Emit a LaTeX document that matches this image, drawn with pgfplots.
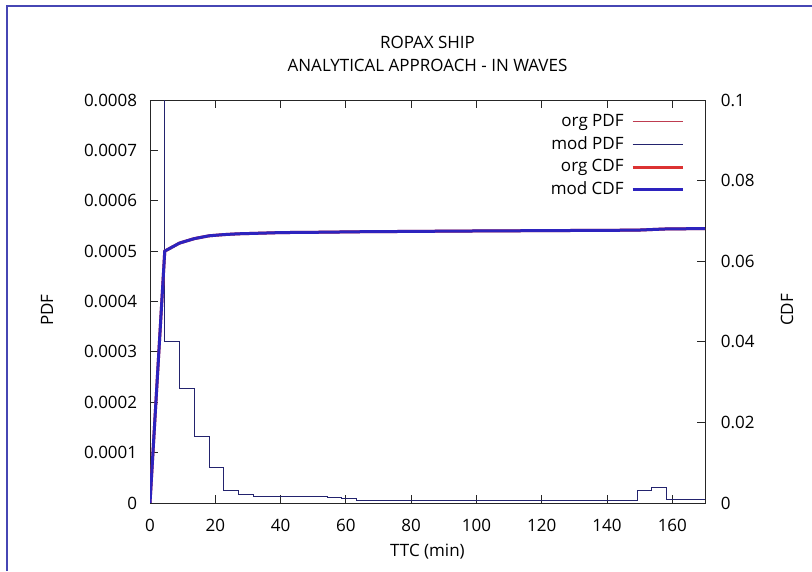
\documentclass[border=0pt]{standalone}
\usepackage{fontspec}
\setmainfont{Open Sans}
\usepackage{pgfplots}
\pgfplotsset{compat=1.18}
\definecolor{frameblue}{RGB}{70,70,180}
\definecolor{orgpdf}{RGB}{190,60,80}
\definecolor{modpdf}{RGB}{35,35,110}
\definecolor{orgcdf}{RGB}{220,50,50}
\definecolor{modcdf}{RGB}{45,35,190}
\pgfplotsset{
  common/.style={
    at={(150pt,68pt)}, anchor=south west,
    scale only axis, width=555pt, height=403pt,
    xmin=0, xmax=170,
    tick align=inside, major tick length=8pt,
    axis line style={line width=0.9pt, black!85},
    every tick/.style={line width=0.9pt, black!85},
    scaled ticks=false,
    clip=true,
  },
}
\begin{document}
\fontsize{17}{20}\selectfont
\begin{tikzpicture}[x=1pt,y=1pt]
\useasboundingbox (0,0) rectangle (812,571);
\draw[frameblue, line width=2pt] (7,0) -- (7,565) -- (813,565);
\begin{axis}[common,
  ymin=0, ymax=0.0008,
  xtick={0,20,40,60,80,100,120,140,160},
  xticklabels={0,20,40,60,80,100,120,140,160},
  ytick={0,0.0001,0.0002,0.0003,0.0004,0.0005,0.0006,0.0007,0.0008},
  yticklabels={0,0.0001,0.0002,0.0003,0.0004,0.0005,0.0006,0.0007,0.0008},
  ytick pos=left, xtick pos=both,
  yticklabel style={xshift=-7pt},
  xticklabel style={yshift=-10pt},
  title={ROPAX SHIP\\ANALYTICAL APPROACH - IN WAVES},
  every axis title/.style={at={(axis description cs:0.5,1)}, yshift=46.5pt, anchor=center, align=center, font=\fontsize{17}{23}\selectfont},
  xlabel={TTC (min)},
  every axis x label/.style={at={(axis description cs:0.5,-0.1216)}, anchor=center},
  ylabel={PDF},
  every axis y label/.style={at={(axis description cs:-0.1856,0.479)}, anchor=center, rotate=90},
]
\addplot[orgpdf, line width=0.8pt, const plot] coordinates {
(0,0.0137) (4.52,0.00032) (9.04,0.000227) (13.56,0.000132) (18.08,0.000071)
(22.6,0.000025) (27.12,0.000017) (31.64,0.000014) (36.16,0.000014) (40.68,0.000014)
(45.2,0.000014) (49.72,0.000014) (54.24,0.0000115) (58.76,0.000009) (63.28,0.000005)
(67.8,0.000005) (72.32,0.000005) (76.84,0.000005) (81.36,0.000005) (85.88,0.000005)
(90.4,0.000005) (94.92,0.000005) (99.44,0.000005) (103.96,0.000005) (108.48,0.000005)
(113,0.000005) (117.52,0.000005) (122.04,0.000005) (126.56,0.000005) (131.08,0.000005)
(135.6,0.000005) (140.12,0.000005) (144.64,0.000005) (149.16,0.000026) (153.68,0.00003)
(158.2,0.000008) (162.72,0.000008) (167.24,0.000008) (170,0.000008)
};
\addplot[modpdf, line width=0.8pt, const plot] coordinates {
(0,0.0137) (4.52,0.00032) (9.04,0.000227) (13.56,0.000132) (18.08,0.000071)
(22.6,0.000025) (27.12,0.000017) (31.64,0.000014) (36.16,0.000014) (40.68,0.000014)
(45.2,0.000014) (49.72,0.000014) (54.24,0.0000115) (58.76,0.000009) (63.28,0.000005)
(67.8,0.000005) (72.32,0.000005) (76.84,0.000005) (81.36,0.000005) (85.88,0.000005)
(90.4,0.000005) (94.92,0.000005) (99.44,0.000005) (103.96,0.000005) (108.48,0.000005)
(113,0.000005) (117.52,0.000005) (122.04,0.000005) (126.56,0.000005) (131.08,0.000005)
(135.6,0.000005) (140.12,0.000005) (144.64,0.000005) (149.16,0.000026) (153.68,0.00003)
(158.2,0.000008) (162.72,0.000008) (167.24,0.000008) (170,0.000008)
};
\end{axis}
\begin{axis}[common,
  ymin=0, ymax=0.1,
  axis x line=none, axis y line*=right,
  ytick={0,0.02,0.04,0.06,0.08,0.1},
  yticklabels={0,0.02,0.04,0.06,0.08,0.1},
  yticklabel style={xshift=10pt},
  ylabel={CDF},
  every axis y label/.style={at={(axis description cs:1.148,0.479)}, anchor=center, rotate=90},
  legend style={at={(axis description cs:1,1)}, anchor=north east, xshift=-21pt, yshift=-10.5pt,
    draw=none, fill=none, inner sep=0pt, outer sep=0pt,
    nodes={inner sep=2.35pt, text height=13.5pt, text depth=4.5pt},
    row sep=0pt, column sep=5pt},
  legend cell align=right,
  legend plot pos=right,
  legend image code/.code={\draw[#1] (0pt,0pt) -- (50pt,0pt);},
]
\addlegendimage{orgpdf, line width=0.8pt}
\addlegendentry{org PDF}
\addlegendimage{modpdf, line width=0.8pt}
\addlegendentry{mod PDF}
\addplot[orgcdf, line width=3pt] coordinates {
(0,0) (4.52,0.0625) (9.04,0.0645) (13.56,0.0656) (18.08,0.0663) (22.6,0.0666)
(27.12,0.0668) (31.64,0.0669) (40,0.0671) (54,0.0672) (63,0.0673) (100,0.0675)
(149,0.0677) (158,0.0680) (170,0.0681)
};
\addlegendentry{org CDF}
\addplot[modcdf, line width=3pt] coordinates {
(0,0) (4.52,0.0625) (9.04,0.0645) (13.56,0.0656) (18.08,0.0663) (22.6,0.0666)
(27.12,0.0668) (31.64,0.0669) (40,0.0671) (54,0.0672) (63,0.0673) (100,0.0675)
(149,0.0677) (158,0.0680) (170,0.0681)
};
\addlegendentry{mod CDF}
\end{axis}
\end{tikzpicture}
\end{document}
